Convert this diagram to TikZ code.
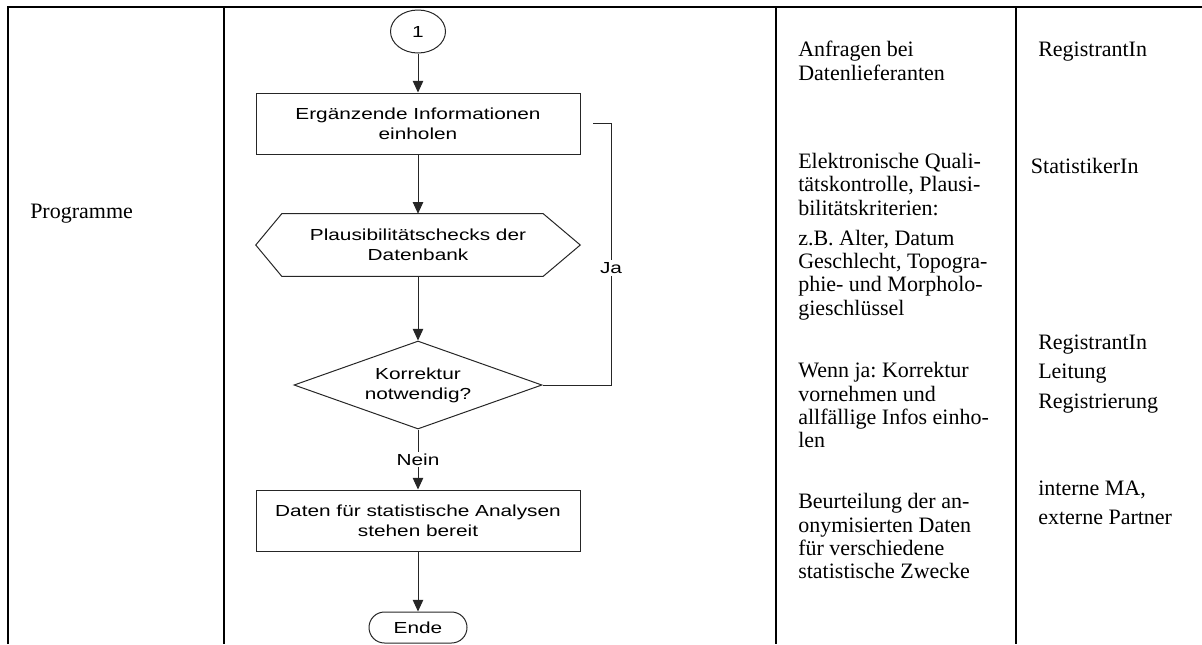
\documentclass[tikz,border=0pt]{standalone}
\usepackage{fontspec}
\setmainfont{Liberation Serif}
\newfontfamily\flowfont[FakeStretch=1.3]{Liberation Sans}
\usetikzlibrary{arrows.meta,positioning,shapes.geometric,calc}
\frenchspacing

\begin{document}
\begin{tikzpicture}[
  x=0.75pt, y=-0.75pt,
  >={Triangle[length=8.7pt,width=7.8pt]},
  rule/.style={line width=1.6pt, line join=miter},
  flowline/.style={line width=0.75pt, draw=black!85},
  flowtext/.style={font=\flowfont\fontsize{12}{15}\selectfont, align=center, inner sep=0pt},
  flowbox/.style={flowtext, draw=black!85, line width=0.75pt, minimum width=243pt, minimum height=45.75pt},
  hexbox/.style={flowtext, minimum width=243pt, minimum height=46.5pt},
  decision/.style={flowtext, diamond, aspect=2.8, draw=black!85, line width=0.75pt, minimum width=186pt, minimum height=66pt},
  connector/.style={flowtext, ellipse, draw=black!85, line width=0.75pt, minimum width=41.25pt, minimum height=32.25pt},
  terminal/.style={flowtext, draw=black!85, line width=0.75pt, rounded corners=11.6pt, minimum width=73.5pt, minimum height=23.25pt},
  flowlbl/.style={flowtext, fill=white, inner sep=1.5pt},
  txt/.style={font=\fontsize{16.5}{17.5}\selectfont, align=left, inner sep=0pt, anchor=base west}
]
\useasboundingbox (0,0) rectangle (1202,644);

% Table frame
\draw[rule] (7.7,644) -- (7.7,7) -- (1202,7);
\foreach \x in {224,776,1016}
  \draw[rule] (\x,7) -- (\x,644);

% Left column
\node[txt] (prog) at (30,218) {Programme};

% Flowchart
\node[connector] (start) at (418,31.5) {1};
\node[flowbox] (ergaenz) at (418,123.5) {Ergänzende Informationen\\einholen};
\node[hexbox] (plaus) at (418,245) {Plausibilitätschecks der\\Datenbank};
\draw[flowline] (plaus.west) -- ($(plaus.north west)+(26,0)$) -- ($(plaus.north east)+(-37,0)$)
  -- (plaus.east) -- ($(plaus.south east)+(-37,0)$) -- ($(plaus.south west)+(26,0)$) -- cycle;
\node[decision] (korr) at (418,385) {Korrektur\\notwendig?};
\node[flowbox] (bereit) at (418,520.5) {Daten für statistische Analysen\\stehen bereit};
\node[terminal] (ende) at (418,627.5) {Ende};

\draw[flowline,->] (start) -- (ergaenz);
\draw[flowline,->] (ergaenz) -- (plaus);
\draw[flowline,->] (plaus) -- (korr);
\draw[flowline,->] (korr) -- node[flowlbl] (nein) {Nein} (bereit);
\draw[flowline,->] (bereit) -- (ende);

% Ja loop back
\coordinate (jaknick) at (611,123.5);
\coordinate (jaende) at (593,123.5);
\draw[flowline] (korr.east) -| (jaknick) -- (jaende);
\node[flowlbl] (ja) at (611,268) {Ja};

% Description column (anchored at the last line)
\node[txt] (anfr) at (798,80) {Anfragen bei\\Datenlieferanten};
\node[txt] (elek) at (798,215) {Elektronische Quali-\\tätskontrolle, Plausi-\\bilitätskriterien:};
\node[txt] (zb) at (798,315) {z.B. Alter, Datum\\Geschlecht, Topogra-\\phie- und Morpholo-\\gieschlüssel};
\node[txt] (wenn) at (798,447.7) {Wenn ja: Korrektur\\vornehmen und\\allfällige Infos einho-\\len};
\node[txt] (beurt) at (798,578.7) {Beurteilung der an-\\onymisierten Daten\\für verschiedene\\statistische Zwecke};

% Responsibility column
\node[txt] (reg1) at (1038,56.7) {RegistrantIn};
\node[txt] (stat) at (1030.7,173) {StatistikerIn};
\node[txt, font=\fontsize{16.5}{22}\selectfont] (reg2) at (1038,408.3) {RegistrantIn\\Leitung\\Registrierung};
\node[txt, font=\fontsize{16.5}{21.5}\selectfont] (ma) at (1038,524) {interne MA,\\externe Partner};
\end{tikzpicture}
\end{document}
